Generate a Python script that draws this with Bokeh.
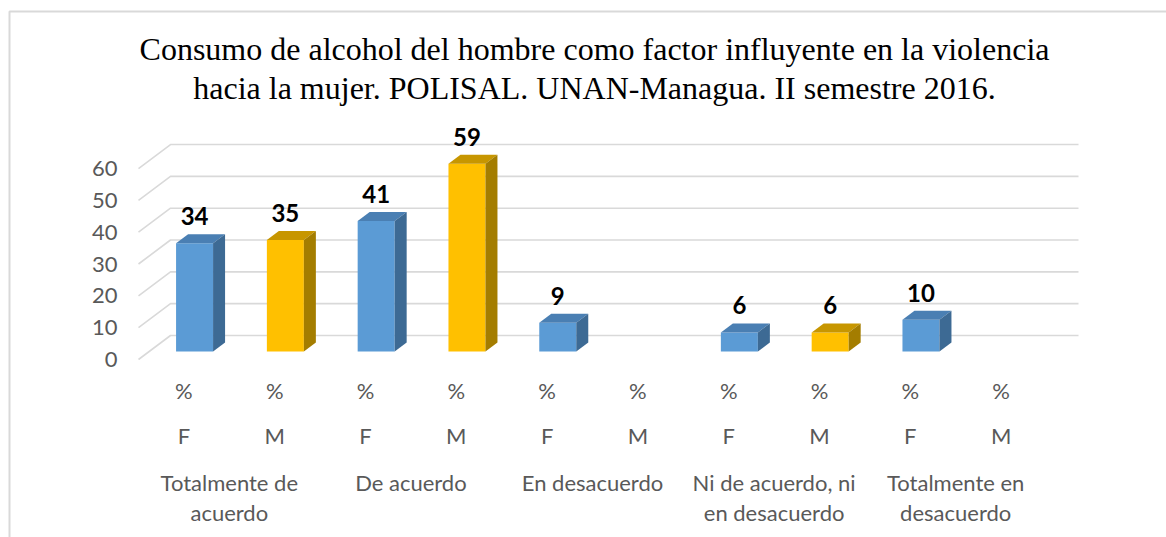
from bokeh.plotting import figure
from bokeh.models import Range1d, Label
from bokeh.core.properties import value
from bokeh.embed import file_html
from bokeh.resources import INLINE

# ---------------- data ----------------
title_lines = ["Consumo de alcohol del hombre como factor influyente en la violencia",
               "hacia la mujer. POLISAL. UNAN-Managua. II semestre 2016."]
groups = ["Totalmente de acuerdo", "De acuerdo", "En desacuerdo",
          "Ni de acuerdo, ni en desacuerdo", "Totalmente en desacuerdo"]
group_line1 = ["Totalmente de", "De acuerdo", "En desacuerdo", "Ni de acuerdo, ni", "Totalmente en"]
group_line2 = ["acuerdo", "", "", "en desacuerdo", "desacuerdo"]
sexes = ["F", "M"]
unit_label = "%"
pct_F = [34, 41, 9, 6, 10]
pct_M = [35, 59, None, 6, None]
y_ticks = [0, 10, 20, 30, 40, 50, 60]

# ---------------- geometry ----------------
W, H = 1166, 537
X0, Y0 = 138.0, 359.0        # canvas px of category 0 / value 0 on front plane
CAT, UNIT = 90.8, 3.183      # px per category, px per value unit

def dx(d):
    return d * 4.0 / 3.0 / CAT

def dy(d):
    return d / UNIT

def px_x(px):
    return (px - X0) / CAT

def px_y(px):
    return (Y0 - px) / UNIT

GRID = "#d9d9d9"
TXT = "#595959"
FONT = "Lato"
FS = "22px"

p = figure(width=W, height=H,
           x_range=Range1d(px_x(0), px_x(W)),
           y_range=Range1d(px_y(H), px_y(0)),
           output_backend="svg", toolbar_location=None,
           x_axis_location=None, y_axis_location=None, min_border=0)
p.grid.visible = False
p.outline_line_color = None
p.background_fill_color = "white"
p.border_fill_color = "white"

# chart border (left + top)
p.line(x=[px_x(9), px_x(9), px_x(2000)],
       y=[px_y(1000), px_y(11), px_y(11)],
       line_color=GRID, line_width=2)

# gridlines (back wall + left diagonal)
ncat = len(groups) * len(sexes)
BACK = 24
for t in y_ticks:
    p.line(x=[0, dx(BACK), ncat + dx(BACK)], y=[t, t + dy(BACK), t + dy(BACK)],
           line_color=GRID, line_width=1.6)

# y tick labels
p.text(x=[0] * len(y_ticks), y=y_ticks, text=[str(t) for t in y_ticks],
       x_offset=-21, text_align="right", text_baseline="middle",
       text_font=value(FONT), text_font_size=FS, text_color=TXT)

# bars
colors = {"F": ("#5b9bd5", "#4a7fb3", "#3d6a94"),
          "M": ("#ffc000", "#c79600", "#a47d00")}
BW = 37.0 / CAT
FD, BD = 8, 9
for g in range(len(groups)):
    for s, sex in enumerate(sexes):
        v = (pct_F if sex == "F" else pct_M)[g]
        if v is None:
            continue
        c = 2 * g + s + 0.5
        L = c - BW / 2 + dx(FD)
        R = c + BW / 2 + dx(FD)
        B = dy(FD)
        T = v + dy(FD)
        front, top, side = colors[sex]
        p.quad(left=[L], right=[R], bottom=[B], top=[T], fill_color=front, line_color=None)
        p.patch(x=[L, R, R + dx(BD), L + dx(BD)], y=[T, T, T + dy(BD), T + dy(BD)],
                fill_color=top, line_color=None)
        p.patch(x=[R, R + dx(BD), R + dx(BD), R], y=[B, B + dy(BD), T + dy(BD), T],
                fill_color=side, line_color=None)
        p.text(x=[c + dx(FD)], y=[T + dy(27)], text=[str(v)],
               text_align="center", text_baseline="middle",
               text_font=value(FONT), text_font_style="bold",
               text_font_size="24px", text_color="black")

# category labels
centers = [k + 0.5 for k in range(ncat)]
p.text(x=centers, y=[px_y(390)] * ncat, text=[unit_label] * ncat,
       text_align="center", text_baseline="middle",
       text_font=value(FONT), text_font_size=FS, text_color=TXT)
p.text(x=centers, y=[px_y(435)] * ncat, text=sexes * len(groups),
       text_align="center", text_baseline="middle",
       text_font=value(FONT), text_font_size=FS, text_color=TXT)
gx = [2 * g + 1 for g in range(len(groups))]
p.text(x=gx, y=[px_y(482)] * len(groups), text=group_line1,
       text_align="center", text_baseline="middle",
       text_font=value(FONT), text_font_size=FS, text_color=TXT)
p.text(x=gx, y=[px_y(512)] * len(groups), text=group_line2,
       text_align="center", text_baseline="middle",
       text_font=value(FONT), text_font_size=FS, text_color=TXT)

# title
for line, ypx in zip(title_lines, [48, 87]):
    p.add_layout(Label(x=px_x(594), y=px_y(ypx), text=line,
                       text_align="center", text_baseline="middle",
                       text_font="Liberation Serif", text_font_size="32px",
                       text_color="black"))

open("out.html", "w").write(file_html(p, INLINE))
